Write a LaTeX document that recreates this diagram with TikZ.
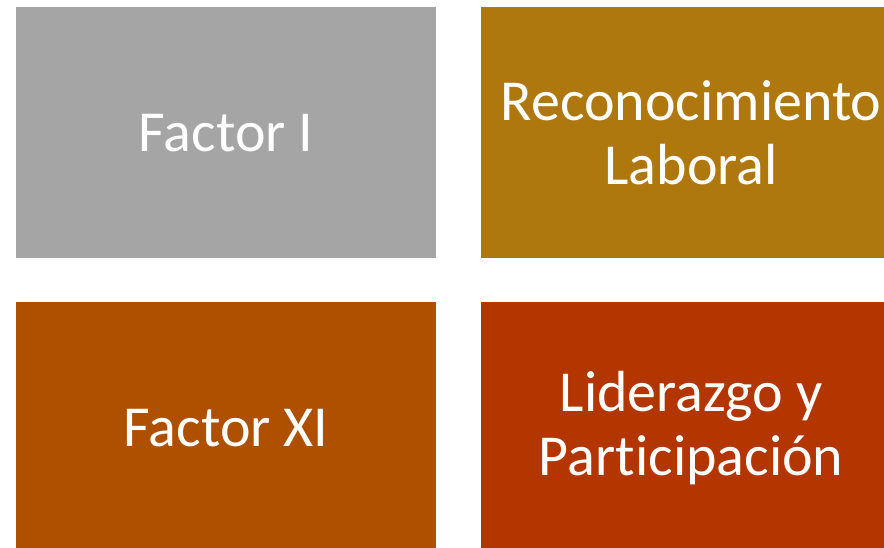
\documentclass[tikz,border=0pt]{standalone}
\usepackage{fontspec}
\setmainfont{Carlito}[Ligatures=NoCommon]
\begin{document}
\begin{tikzpicture}[x=1pt,y=-1pt,
  tile/.style={draw=none,minimum width=420pt,minimum height=251pt,inner sep=0pt,
    text=white,align=center,font=\fontsize{58}{64}\selectfont,anchor=north west}]
\definecolor{cgray}{HTML}{A5A5A5}
\definecolor{cgold}{HTML}{AE780F}
\definecolor{corange}{HTML}{AE5000}
\definecolor{cred}{HTML}{B33500}
\useasboundingbox (0,0) rectangle (884,548);
\fill[white] (0,0) rectangle (884,548);
\begin{scope}
\clip (0,0) rectangle (884,548);
\node[tile,fill=cgray] (f1) at (16,7) {Factor I};
\node[tile,fill=cgold] (rl) at (481,7) {Reconocimiento\\Laboral};
\node[tile,fill=corange] (f11) at (16,302) {Factor XI};
\node[tile,fill=cred] (lp) at (481,302) {Liderazgo y\\Participación};
\end{scope}
\end{tikzpicture}
\end{document}
